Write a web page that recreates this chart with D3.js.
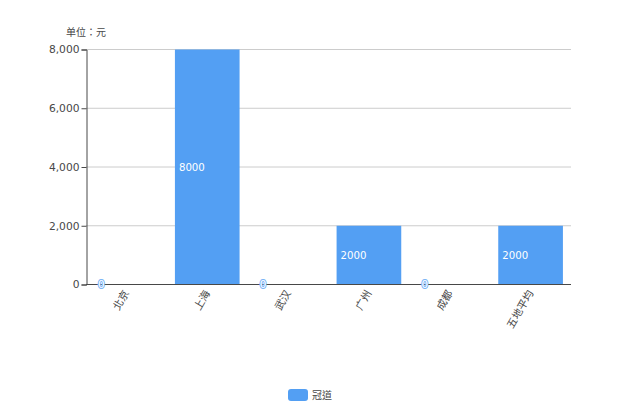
<!DOCTYPE html>
<html><head><meta charset="utf-8">
<script src="https://cdn.jsdelivr.net/npm/d3@7/dist/d3.min.js"></script>
<style>html,body{margin:0;padding:0;background:#fff}svg{display:block}
text{font-family:"DejaVu Sans","Noto Sans CJK TC",sans-serif}</style>
</head><body><div id="c"></div>
<script>
const categories = ["北京","上海","武汉","广州","成都","五地平均"];
const seriesName = "冠道";
const seriesValues = [0,8000,0,2000,0,2000];
const yTicks = [0,2000,4000,6000,8000];
const unitLabel = "单位：元";
const W=620,H=413,m={l:86,r:571,t:49.5,b:284.5};
const svg=d3.select("#c").append("svg").attr("width",W).attr("height",H);
const band=d3.scaleBand().domain(categories).range([m.l,m.r]);
const y=d3.scaleLinear().domain([0,8000]).range([m.b,m.t]);
const color="#539ff3", ink="#484848", fs=10.7;
svg.append("g").selectAll("line").data(yTicks.filter(d=>d>0)).join("line")
 .attr("x1",m.l).attr("x2",m.r).attr("y1",d=>y(d)).attr("y2",d=>y(d))
 .attr("stroke","#ccc").attr("stroke-width",1);
svg.append("g").selectAll("rect").data(seriesValues).join("rect")
 .attr("x",(d,i)=>band(categories[i])+band.bandwidth()*0.1)
 .attr("width",band.bandwidth()*0.8)
 .attr("y",d=>y(d)).attr("height",d=>m.b-y(d)).attr("fill",color);
const yAxis=d3.axisLeft(y).tickValues(yTicks).tickSize(5).tickPadding(2).tickFormat(d3.format(","));
const gy=svg.append("g").attr("transform",`translate(${m.l+0.5},0)`).call(yAxis);
gy.selectAll("path,line").attr("stroke",ink);
gy.selectAll("text").attr("fill",ink).attr("font-size",fs);
const gx=svg.append("g").attr("transform",`translate(0,${m.b})`)
 .call(d3.axisBottom(band).tickSize(0).tickFormat(""));
gx.select("path").attr("stroke",ink).attr("d",`M${m.l},0H${m.r}`);
gx.selectAll(".tick text").remove();
svg.append("g").selectAll("text").data(categories).join("text")
 .attr("transform",d=>`translate(${band(d)+band.bandwidth()/2},${m.b+6.5}) rotate(-60)`)
 .attr("text-anchor","end").attr("dy","0.35em")
 .attr("fill",ink).attr("font-size",10.5).text(d=>d);
svg.append("g").selectAll("text").data(seriesValues).join("text")
 .attr("x",(d,i)=>band(categories[i])+band.bandwidth()*0.1+4)
 .attr("y",d=>(y(d)+m.b)/2).attr("dy","0.35em")
 .attr("font-size",10.2).attr("fill","#fff")
 .attr("stroke",d=>d===0?"#7db6f6":"none").attr("stroke-width",d=>d===0?2:0)
 .attr("paint-order","stroke").text(d=>d);
svg.append("text").attr("x",86).attr("y",32.5).attr("dy","0.35em").attr("text-anchor","middle")
 .attr("font-size",10).attr("fill",ink).text(unitLabel);
svg.append("rect").attr("x",288).attr("y",389).attr("width",20).attr("height",12).attr("rx",3).attr("fill",color);
svg.append("text").attr("x",312).attr("y",395).attr("dy","0.35em").attr("font-size",10).attr("fill",ink).text(seriesName);
</script></body></html>
